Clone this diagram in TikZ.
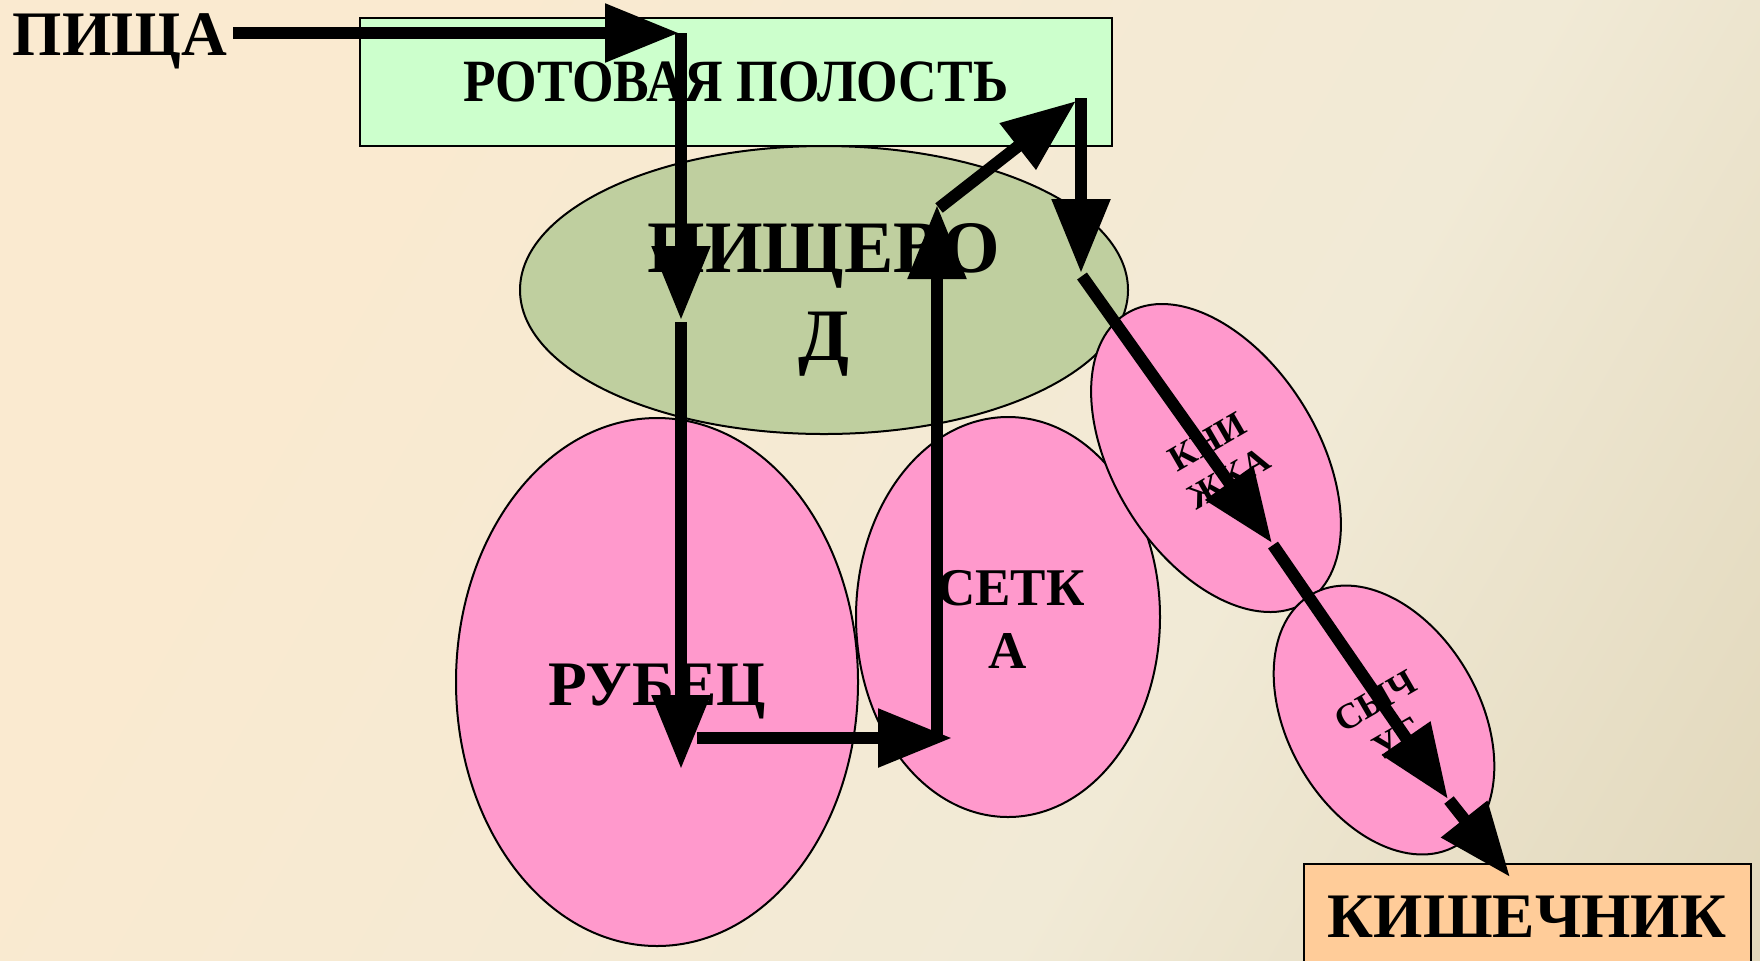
\documentclass[tikz,border=0pt]{standalone}
\usepackage{fontspec}
\setmainfont{Liberation Serif}
\usetikzlibrary{arrows.meta,shapes.geometric}
\definecolor{bgA}{RGB}{250,234,208}
\definecolor{bgB}{RGB}{241,234,214}
\definecolor{bgC}{RGB}{214,202,168}
\definecolor{mouthgreen}{RGB}{204,255,204}
\definecolor{esogreen}{RGB}{191,207,159}
\definecolor{stomachpink}{RGB}{255,153,204}
\definecolor{gutpeach}{RGB}{255,204,153}
\pgfdeclarehorizontalshading{bgshade}{100bp}{color(0bp)=(bgA); color(30bp)=(bgA); color(62bp)=(bgB); color(100bp)=(bgC)}
\begin{document}
\begin{tikzpicture}[x=0.5pt,y=-0.5pt,
  arr/.style={line width=6pt,-{Triangle[length=37pt,width=28pt]}},
  organ/.style={ellipse,draw=black,line width=1pt,inner sep=0pt},
  boxshape/.style={rectangle,draw=black,line width=1pt,inner sep=0pt},
  bigbold/.style={font=\bfseries\fontsize{31.7}{38}\selectfont,inner sep=0pt,anchor=base},
  smallrot/.style={font=\bfseries\fontsize{18}{21.5}\selectfont,inner sep=0pt,align=center,rotate=30}]
\useasboundingbox (0,0) rectangle (1760,960);
\shade[shading=bgshade,shading angle=-30] (0,0) rectangle (1760,960);
\begin{scope}
\clip (0,0) rectangle (1760,960);
% shapes
\node[boxshape,fill=mouthgreen,minimum width=376pt,minimum height=64pt,
  font=\bfseries\fontsize{30}{36}\selectfont] (mouth) at (736,82) {\scalebox{0.89}[1]{РОТОВАЯ ПОЛОСТЬ}};
\node[organ,fill=esogreen,minimum width=304pt,minimum height=144pt] (eso) at (824,290) {};
\node[organ,fill=stomachpink,minimum width=201pt,minimum height=264pt] (rumen) at (657,682) {};
\node[organ,fill=stomachpink,minimum width=152pt,minimum height=200pt] (reti) at (1008,617) {};
\node[organ,fill=stomachpink,minimum width=170pt,minimum height=102pt,rotate=-58] (omas) at (1216,458) {};
\node[organ,fill=stomachpink,minimum width=145pt,minimum height=96pt,rotate=-60] (abom) at (1384,720) {};
\node[boxshape,fill=gutpeach,minimum width=223.5pt,minimum height=56pt] (gut) at (1527.5,920) {};
% texts
\node[bigbold] (food) at (120,55) {ПИЩА};
\node[bigbold,font=\bfseries\fontsize{37}{44}\selectfont] (esoA) at (824,272) {ПИЩЕВО};
\node[bigbold,font=\bfseries\fontsize{37}{44}\selectfont] (esoB) at (824,360) {Д};
\node[bigbold] (rumentext) at (657,705) {РУБЕЦ};
\node[bigbold,font=\bfseries\fontsize{26.5}{32}\selectfont] (retiA) at (1011,605) {СЕТК};
\node[bigbold,font=\bfseries\fontsize{26.5}{32}\selectfont] (retiB) at (1008,668) {А};
\node[smallrot] (omastext) at (1218,460) {КНИ\\ЖКА};
\node[smallrot] (abomtext) at (1386,720) {СЫЧ\\УГ};
\node[bigbold] (guttext) at (1527,937) {КИШЕЧНИК};
% path points
\coordinate (a1s) at (233,33);
\coordinate (a1e) at (679,33);
\coordinate (a2s) at (681,33);
\coordinate (a2e) at (681,320);
\coordinate (a3s) at (681,322);
\coordinate (a3e) at (681,769);
\coordinate (a4s) at (697,738);
\coordinate (a4e) at (952,738);
\coordinate (a5s) at (937,741);
\coordinate (a5e) at (937,205);
\coordinate (a6s) at (939,208);
\coordinate (a6e) at (1076,101);
\coordinate (a7s) at (1081,98);
\coordinate (a7e) at (1081,273);
\coordinate (a8s) at (1082,276);
\coordinate (a8e) at (1272,543);
\coordinate (a9s) at (1273,545);
\coordinate (a9e) at (1448,799);
\coordinate (a10s) at (1449,800);
\coordinate (a10e) at (1510,877);
\foreach \i in {1,...,10} {\draw[arr] (a\i s) -- (a\i e);}
\end{scope}
\end{tikzpicture}
\end{document}
